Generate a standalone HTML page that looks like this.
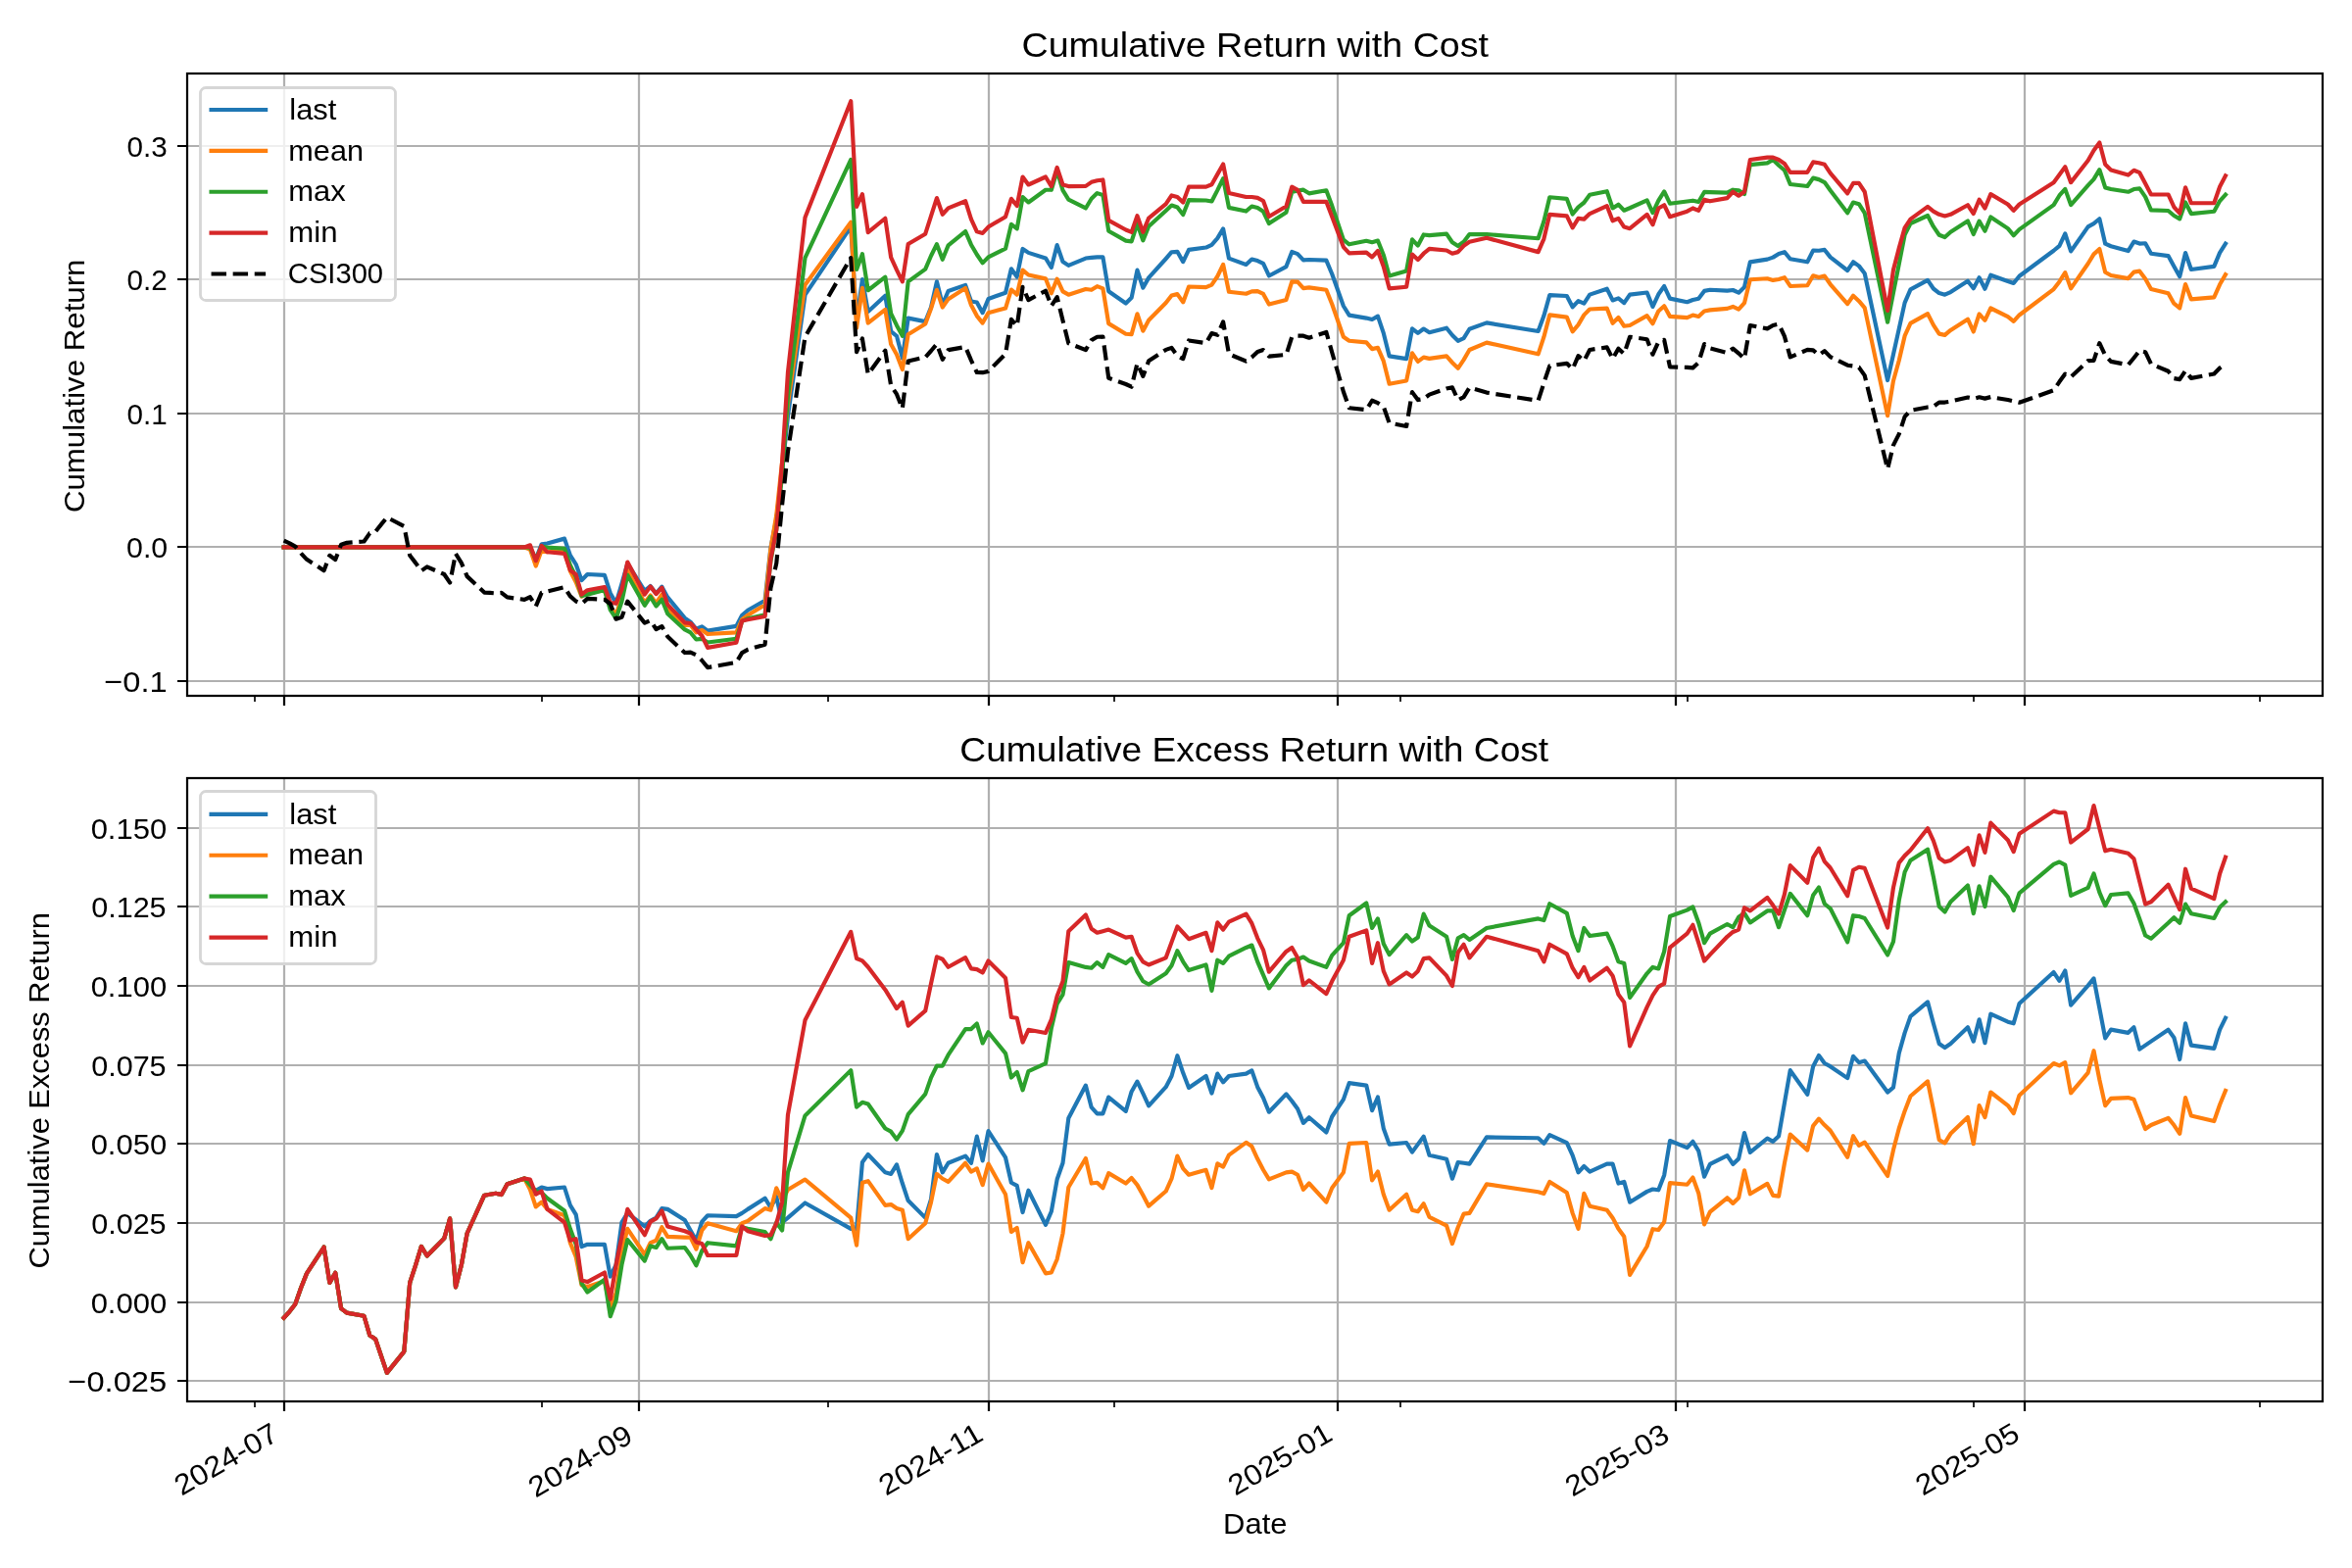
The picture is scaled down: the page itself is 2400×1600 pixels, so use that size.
<!DOCTYPE html>
<html><head><meta charset="utf-8"><title>Cumulative Return with Cost</title>
<style>html,body{margin:0;padding:0;background:#fff;overflow:hidden}svg{display:block;will-change:transform}text{font-family:"Liberation Sans",sans-serif;fill:#000}</style>
</head><body>
<svg width="2400" height="1600" viewBox="0 0 2400 1600">
<rect x="0" y="0" width="2400" height="1600" fill="#ffffff"/>
<defs><clipPath id="clip0"><rect x="191" y="75" width="2179" height="635"/></clipPath></defs>
<path d="M290 710V75M652 710V75M1009 710V75M1365 710V75M1710 710V75M2066 710V75M191 695H2370M191 558H2370M191 422H2370M191 285H2370M191 149H2370" clip-path="url(#clip0)" fill="none" stroke="#b0b0b0" stroke-width="2.22" stroke-linecap="square"/>
<path d="M290 710v10M652 710v10M1009 710v10M1365 710v10M1710 710v10M2066 710v10M191 695h-10M191 558h-10M191 422h-10M191 285h-10M191 149h-10" fill="none" stroke="#000000" stroke-width="2.22"/>
<path d="M260 710v6M553 710v6M845 710v6M1137 710v6M1429 710v6M1722 710v6M2014 710v6M2306 710v6" fill="none" stroke="#000000" stroke-width="1.67"/>
<path d="M289.63 558.43L295.47 558.43L301.31 558.43L307.16 558.43L313 558.43L330.54 558.43L336.38 558.43L342.23 558.43L348.07 558.43L353.92 558.43L371.45 558.43L377.29 558.43L383.14 558.43L388.98 558.43L394.83 558.43L412.36 558.43L418.21 558.43L424.05 558.43L429.9 558.43L435.74 558.43L453.27 558.43L459.12 558.43L464.96 558.43L470.81 558.43L476.65 558.43L494.19 558.43L500.03 558.43L505.87 558.43L511.72 558.43L517.56 558.43L535.1 558.43L540.94 559.32L546.79 570.53L552.63 555.23L558.48 554.51L576.01 549.62L581.85 566.59L587.7 575.78L593.54 592.14L599.39 585.99L616.92 586.85L622.77 605.16L628.61 615.6L634.46 595.49L640.3 575.19L657.83 602.95L663.68 598.04L669.52 605.69L675.37 598.64L681.21 609.44L698.75 630.64L704.59 634.66L710.43 641.71L716.28 639.31L722.12 643.66L751.35 638.89L757.19 627.72L763.04 622.73L780.57 612.78L786.41 559.12L792.26 529.34L798.1 480.7L803.95 424.55L821.48 300.88L868.24 231.4L874.08 327.56L879.93 285.07L885.77 318.06L903.31 301.68L909.15 338.17L914.99 342.82L920.84 365.59L926.68 324.61L944.22 328.1L950.06 313.48L955.91 287.37L961.75 310.87L967.6 297.06L985.13 290.89L990.97 307.54L996.82 308.48L1002.66 319.13L1008.51 304.98L1026.04 298.67L1031.89 274.25L1037.73 282.44L1043.57 253.95L1049.42 257.87L1066.95 263.41L1072.8 272.98L1078.64 250.13L1084.49 266.99L1090.33 270.87L1107.87 263.55L1113.71 262.94L1119.55 262.36L1125.4 262.24L1131.24 297.28L1148.78 309.55L1154.62 303.84L1160.47 275.61L1166.31 293.7L1172.16 283.4L1189.69 263.98L1195.53 257.24L1201.38 256.81L1207.22 267.12L1213.07 254.89L1230.6 252.52L1236.45 249.79L1242.29 243.14L1248.13 233.45L1253.98 263.63L1271.51 269.98L1277.36 264.58L1283.2 266.05L1289.05 268.9L1294.89 281.47L1312.43 272.12L1318.27 256.91L1324.11 259.09L1329.96 265.31L1335.8 264.97L1353.34 265.65L1359.18 279.44L1370.87 312.23L1376.72 321.65L1394.25 324.57L1400.09 325.97L1405.94 322.63L1411.78 339.93L1417.63 363.36L1435.16 366.15L1441.01 335.32L1446.85 339.89L1452.69 335.54L1458.54 339.2L1476.07 334.71L1481.92 341.96L1487.76 347.79L1493.61 345.13L1499.45 335.74L1516.99 329.39L1569.59 338L1575.43 322.08L1581.28 301.08L1598.81 302L1604.65 313.28L1610.5 307.09L1616.34 309.58L1622.19 300.62L1639.72 294.67L1645.57 306.44L1651.41 304.39L1657.25 309.1L1663.1 300.56L1680.63 298.53L1686.48 312.95L1692.32 300.26L1698.17 292.01L1704.01 304.64L1721.55 308.18L1727.39 306.01L1733.23 304.68L1739.08 296.9L1744.92 295.79L1762.46 296.65L1768.3 296.02L1774.15 298.65L1779.99 292.98L1785.84 267.38L1803.37 264.65L1809.21 262.62L1815.06 258.94L1820.9 257.18L1826.75 264.26L1844.28 267.3L1850.13 255.58L1855.97 255.71L1861.81 254.94L1867.66 262.36L1885.19 275.99L1891.04 267.32L1896.88 271.37L1902.73 278.97L1926.1 388.01L1931.95 361.75L1937.79 335.37L1943.64 308.89L1949.48 295.39L1967.02 285.87L1972.86 294.51L1978.71 299.06L1984.55 300.65L1990.4 298.04L2007.93 286.78L2013.77 294.2L2019.62 283.23L2025.46 294.7L2031.31 280.69L2048.84 287L2054.69 288.99L2060.53 281.79L2095.6 255.75L2101.44 250.82L2107.29 238.45L2113.13 256.42L2130.66 231.4L2136.51 228.12L2142.35 223.26L2148.2 248.7L2154.04 251.24L2171.58 256.05L2177.42 246.54L2183.27 248.59L2189.11 248.27L2194.96 258.76L2212.49 261.12L2218.33 271.85L2224.18 282.28L2230.02 258L2235.87 274.96L2259.25 271.92L2265.09 257.88L2270.93 248.74" clip-path="url(#clip0)" fill="none" stroke="#1f77b4" stroke-width="4.17" stroke-linejoin="round" stroke-linecap="square"/>
<path d="M289.63 558.43L295.47 558.43L301.31 558.43L307.16 558.43L313 558.43L330.54 558.43L336.38 558.43L342.23 558.43L348.07 558.43L353.92 558.43L371.45 558.43L377.29 558.43L383.14 558.43L388.98 558.43L394.83 558.43L412.36 558.43L418.21 558.43L424.05 558.43L429.9 558.43L435.74 558.43L453.27 558.43L459.12 558.43L464.96 558.43L470.81 558.43L476.65 558.43L494.19 558.43L500.03 558.43L505.87 558.43L511.72 558.43L517.56 558.43L535.1 558.43L540.94 560.67L546.79 577.63L552.63 561.64L558.48 563.29L576.01 561.78L581.85 582.81L587.7 594.03L593.54 608.7L599.39 604.23L616.92 602.73L622.77 618.34L628.61 627.76L634.46 608.32L640.3 581.95L657.83 615.11L663.68 607.5L669.52 615.49L675.37 606.75L681.21 621.27L698.75 638.08L704.59 637.7L710.43 645.43L716.28 643.03L722.12 647.04L751.35 645.31L757.19 632.11L763.04 627.79L780.57 617.17L786.41 560.14L792.26 525.62L798.1 471.24L803.95 412.39L821.48 290.75L868.24 226.67L874.08 334.65L879.93 293.85L885.77 329.55L903.31 315.87L909.15 351.34L914.99 361.74L920.84 377.08L926.68 341.17L944.22 330.46L950.06 314.83L955.91 295.81L961.75 313.57L967.6 305.17L985.13 293.94L990.97 311.26L996.82 322.33L1002.66 329.6L1008.51 319.17L1026.04 314.55L1031.89 295.53L1037.73 300.68L1043.57 275.57L1049.42 280.5L1066.95 284.35L1072.8 299.33L1078.64 284.58L1084.49 297.4L1090.33 300.68L1107.87 295.05L1113.71 295.79L1119.55 292.17L1125.4 294.42L1131.24 330.13L1148.78 340.72L1154.62 341.08L1160.47 320.28L1166.31 337.7L1172.16 326.73L1189.69 309L1195.53 301.58L1201.38 300.13L1207.22 308.42L1213.07 292.47L1230.6 293.06L1236.45 290.67L1242.29 281.99L1248.13 269.94L1253.98 297.75L1271.51 299.71L1277.36 297.35L1283.2 297.13L1289.05 299.98L1294.89 310.52L1312.43 305.99L1318.27 287.4L1324.11 287.55L1329.96 294.11L1335.8 293.43L1353.34 295.8L1359.18 310.27L1370.87 343.73L1376.72 347.74L1394.25 349.31L1400.09 356.12L1405.94 354.81L1411.78 368.39L1417.63 391.73L1435.16 388.45L1441.01 360.32L1446.85 368.94L1452.69 364.59L1458.54 365.89L1476.07 363.43L1481.92 370L1487.76 375.83L1493.61 367.09L1499.45 357.02L1516.99 349.66L1569.59 361.31L1575.43 343.7L1581.28 321.35L1598.81 323.62L1604.65 338.28L1610.5 331.41L1616.34 321.4L1622.19 315.48L1639.72 314.6L1645.57 329.75L1651.41 323.98L1657.25 332.75L1663.1 331.98L1680.63 322.18L1686.48 330.18L1692.32 317.49L1698.17 312.28L1704.01 322.88L1721.55 324.06L1727.39 321.55L1733.23 322.92L1739.08 317.5L1744.92 316.4L1762.46 314.9L1768.3 312.91L1774.15 315.54L1779.99 309.19L1785.84 285.29L1803.37 284.24L1809.21 285.93L1815.06 284.95L1820.9 283.19L1826.75 291.96L1844.28 291.29L1850.13 281.26L1855.97 283.07L1861.81 281.62L1867.66 290.06L1885.19 310.11L1891.04 301.77L1896.88 307.18L1902.73 314.11L1926.1 424.15L1931.95 388.77L1937.79 367.8L1943.64 342.68L1949.48 329.85L1967.02 320.13L1972.86 331.68L1978.71 340.61L1984.55 341.86L1990.4 336.89L2007.93 325.63L2013.77 338.46L2019.62 320.39L2025.46 326.8L2031.31 314.47L2048.84 323.15L2054.69 327.84L2060.53 321.46L2095.6 295.08L2101.44 287.44L2107.29 278.12L2113.13 294.4L2130.66 269.04L2136.51 259.35L2142.35 254.08L2148.2 277.75L2154.04 280.97L2171.58 284.09L2177.42 277.62L2183.27 276.63L2189.11 284.42L2194.96 294.9L2212.49 299.3L2218.33 309.69L2224.18 314.38L2230.02 290.09L2235.87 305.36L2259.25 303.34L2265.09 290.31L2270.93 280.16" clip-path="url(#clip0)" fill="none" stroke="#ff7f0e" stroke-width="4.17" stroke-linejoin="round" stroke-linecap="square"/>
<path d="M289.63 558.43L295.47 558.43L301.31 558.43L307.16 558.43L313 558.43L330.54 558.43L336.38 558.43L342.23 558.43L348.07 558.43L353.92 558.43L371.45 558.43L377.29 558.43L383.14 558.43L388.98 558.43L394.83 558.43L412.36 558.43L418.21 558.43L424.05 558.43L429.9 558.43L435.74 558.43L453.27 558.43L459.12 558.43L464.96 558.43L470.81 558.43L476.65 558.43L494.19 558.43L500.03 558.43L505.87 558.43L511.72 558.43L517.56 558.43L535.1 558.43L540.94 558.64L546.79 570.87L552.63 557.59L558.48 558.56L576.01 559.76L581.85 576.72L587.7 588.62L593.54 608.02L599.39 606.6L616.92 602.06L622.77 622.39L628.61 631.14L634.46 613.73L640.3 586.67L657.83 617.82L663.68 608.85L669.52 618.53L675.37 611.81L681.21 626.33L698.75 642.47L704.59 645.47L710.43 652.52L716.28 651.81L722.12 655.48L751.35 651.73L757.19 633.8L763.04 631.17L780.57 627.31L786.41 572.64L792.26 540.49L798.1 484.07L803.95 404.96L821.48 263.18L868.24 162.96L874.08 274.99L879.93 259.19L885.77 296.24L903.31 282.68L909.15 319.84L914.99 331.92L920.84 342.87L926.68 287.37L944.22 274.64L950.06 261.03L955.91 249.11L961.75 264.84L967.6 250.35L985.13 236.08L990.97 249.69L996.82 259.75L1002.66 268.37L1008.51 262.33L1026.04 253.65L1031.89 228.9L1037.73 233.37L1043.57 201.17L1049.42 206.44L1066.95 193.73L1072.8 193.79L1078.64 174.32L1084.49 194.22L1090.33 203.59L1107.87 212.48L1113.71 202.75L1119.55 197.11L1125.4 199.01L1131.24 235.74L1148.78 245.65L1154.62 246.35L1160.47 228.26L1166.31 245.34L1172.16 230.99L1189.69 214.95L1195.53 209.55L1201.38 211.49L1207.22 219.09L1213.07 204.16L1230.6 204.5L1236.45 205.48L1242.29 194.11L1248.13 182.05L1253.98 211.89L1271.51 215.54L1277.36 210.47L1283.2 211.95L1289.05 215.81L1294.89 228.04L1312.43 216.66L1318.27 196.05L1324.11 194.51L1329.96 193.64L1335.8 197.35L1353.34 194.31L1359.18 209.8L1370.87 244.61L1376.72 249.3L1394.25 245.8L1400.09 247.21L1405.94 245.56L1411.78 260.15L1417.63 281.46L1435.16 276.49L1441.01 244.31L1446.85 250.57L1452.69 239.46L1458.54 240.08L1476.07 238.63L1481.92 247.23L1487.76 251.04L1493.61 246.69L1499.45 238.99L1516.99 239.05L1569.59 243.27L1575.43 225.66L1581.28 201.28L1598.81 202.88L1604.65 218.55L1610.5 211.35L1616.34 206.74L1622.19 198.79L1639.72 195.21L1645.57 212.39L1651.41 208.65L1657.25 214.71L1663.1 212.26L1680.63 204.32L1686.48 217.05L1692.32 204.7L1698.17 195.43L1704.01 207.73L1721.55 205.52L1727.39 204.7L1733.23 206.08L1739.08 195.93L1744.92 196.17L1762.46 196.7L1768.3 193.7L1774.15 194.31L1779.99 198.09L1785.84 168.1L1803.37 166.39L1809.21 163.01L1815.06 168.78L1820.9 173.78L1826.75 187.95L1844.28 189.98L1850.13 181.64L1855.97 183.11L1861.81 186.06L1867.66 194.16L1885.19 217.25L1891.04 206.55L1896.88 208.24L1902.73 217.35L1926.1 328.75L1931.95 298.77L1937.79 269.35L1943.64 239.5L1949.48 228.02L1967.02 220L1972.86 231.2L1978.71 239.79L1984.55 242.06L1990.4 236.75L2007.93 225.5L2013.77 239L2019.62 225.66L2025.46 235.78L2031.31 221.43L2048.84 233.14L2054.69 240.2L2060.53 234.16L2095.6 209.13L2101.44 199.47L2107.29 192.84L2113.13 209.13L2130.66 189.17L2136.51 182.86L2142.35 173.19L2148.2 191.47L2154.04 192.99L2171.58 195.78L2177.42 193.02L2183.27 192.37L2189.11 200.83L2194.96 214.36L2212.49 215.03L2218.33 220.02L2224.18 223.36L2230.02 206.51L2235.87 218.06L2259.25 215.7L2265.09 205.03L2270.93 198.6" clip-path="url(#clip0)" fill="none" stroke="#2ca02c" stroke-width="4.17" stroke-linejoin="round" stroke-linecap="square"/>
<path d="M289.63 558.43L295.47 558.43L301.31 558.43L307.16 558.43L313 558.43L330.54 558.43L336.38 558.43L342.23 558.43L348.07 558.43L353.92 558.43L371.45 558.43L377.29 558.43L383.14 558.43L388.98 558.43L394.83 558.43L412.36 558.43L418.21 558.43L424.05 558.43L429.9 558.43L435.74 558.43L453.27 558.43L459.12 558.43L464.96 558.43L470.81 558.43L476.65 558.43L494.19 558.43L500.03 558.43L505.87 558.43L511.72 558.43L517.56 558.43L535.1 558.43L540.94 556.28L546.79 572.22L552.63 556.91L558.48 563.29L576.01 564.82L581.85 581.79L587.7 586.26L593.54 606.67L599.39 602.2L616.92 599.01L622.77 614.96L628.61 615.6L634.46 601.57L640.3 573.5L657.83 606.67L663.68 598.38L669.52 606.03L675.37 599.65L681.21 616.88L698.75 635.37L704.59 636.01L710.43 642.39L716.28 648.77L722.12 660.89L751.35 655.79L757.19 633.46L763.04 632.18L780.57 628.99L786.41 570.95L792.26 540.83L798.1 471.91L803.95 380.1L821.48 221.97L868.24 103.16L874.08 210.8L879.93 198.05L885.77 237.12L903.31 222.76L909.15 262.63L914.99 275.39L920.84 287.35L926.68 249.08L944.22 238.71L950.06 220.37L955.91 202.03L961.75 218.78L967.6 212.4L985.13 205.22L990.97 223.56L996.82 236.32L1002.66 237.91L1008.51 231.54L1026.04 221.17L1031.89 202.83L1037.73 210.01L1043.57 180.51L1049.42 188.48L1066.95 180.51L1072.8 190.07L1078.64 170.94L1084.49 188.48L1090.33 190.07L1107.87 189.85L1113.71 185.86L1119.55 184.27L1125.4 183.47L1131.24 224.93L1148.78 234.5L1154.62 236.89L1160.47 220.15L1166.31 236.89L1172.16 222.54L1189.69 208.19L1195.53 199.42L1201.38 201.01L1207.22 206.59L1213.07 190.65L1230.6 190.65L1236.45 188.26L1242.29 177.89L1248.13 167.52L1253.98 197.03L1271.51 201.01L1277.36 201.01L1283.2 201.81L1289.05 205L1294.89 220.95L1312.43 210.58L1318.27 190.65L1324.11 193.84L1329.96 205.8L1335.8 205.8L1353.34 205.8L1359.18 220.95L1370.87 252.04L1376.72 258.42L1394.25 257.62L1400.09 262.41L1405.94 256.03L1411.78 271.98L1417.63 294.3L1435.16 292.71L1441.01 259.51L1446.85 265.09L1452.69 258.72L1458.54 253.93L1476.07 255.53L1481.92 258.72L1487.76 257.12L1493.61 250.74L1499.45 246.76L1516.99 242.77L1569.59 257.12L1575.43 243.57L1581.28 218.85L1598.81 220.44L1604.65 232.4L1610.5 222.83L1616.34 223.63L1622.19 218.05L1639.72 210.08L1645.57 225.23L1651.41 222.83L1657.25 231.61L1663.1 233.2L1680.63 218.85L1686.48 229.21L1692.32 212.47L1698.17 209.28L1704.01 221.24L1721.55 215.66L1727.39 212.47L1733.23 214.86L1739.08 203.7L1744.92 205.29L1762.46 202.1L1768.3 195.73L1774.15 199.71L1779.99 195.73L1785.84 163.03L1803.37 160.64L1809.21 160.64L1815.06 163.03L1820.9 167.02L1826.75 175.79L1844.28 175.79L1850.13 165.43L1855.97 166.22L1861.81 167.82L1867.66 176.59L1885.19 197.32L1891.04 186.95L1896.88 186.95L1902.73 195.73L1926.1 316.92L1931.95 275.46L1937.79 253.13L1943.64 232.4L1949.48 223.63L1967.02 210.87L1972.86 215.66L1978.71 218.85L1984.55 220.44L1990.4 218.85L2007.93 209.28L2013.77 218.05L2019.62 203.7L2025.46 212.47L2031.31 198.12L2048.84 208.48L2054.69 214.86L2060.53 208.48L2095.6 186.16L2101.44 178.18L2107.29 170.21L2113.13 186.16L2130.66 163.83L2136.51 153.47L2142.35 145.49L2148.2 167.82L2154.04 173.4L2171.58 178.55L2177.42 173.76L2183.27 176.16L2189.11 187.32L2194.96 198.48L2212.49 198.48L2218.33 211.24L2224.18 217.62L2230.02 191.3L2235.87 207.25L2259.25 207.25L2265.09 190.51L2270.93 179.34" clip-path="url(#clip0)" fill="none" stroke="#d62728" stroke-width="4.17" stroke-linejoin="round" stroke-linecap="square"/>
<path d="M289.63 551.65L295.47 554.36L301.31 557.6L307.16 564.63L313 570.84L330.54 582.19L336.38 566.79L342.23 571.11L348.07 555.71L353.92 553.82L371.45 552.47L377.29 544.09L383.14 542.47L388.98 535.17L394.83 527.87L412.36 537.06L418.21 566.79L424.05 574.36L429.9 582.46L435.74 578.41L453.27 585.98L459.12 594.56L464.96 564.9L470.81 574.36L476.65 588.14L494.19 604.56L500.03 604.94L505.87 605.37L511.72 604.83L517.56 609.42L535.1 611.86L540.94 609.24L546.79 618.77L552.63 604.81L558.48 603.42L576.01 599.21L581.85 608.41L587.7 613.55L593.54 616.06L599.39 610.91L616.92 611.78L622.77 616.24L628.61 631.74L634.46 629.87L640.3 613.63L657.83 635.65L663.68 633.1L669.52 642.11L675.37 639.11L681.21 649.57L698.75 666.04L704.59 665.67L710.43 668.33L716.28 674.03L722.12 681.09L751.35 675.98L757.19 666.16L763.04 662.85L780.57 657.64L786.41 599.93L792.26 574.87L798.1 515.08L803.95 460.97L821.48 343.71L868.24 263.08L874.08 359.24L879.93 345.47L885.77 381.83L903.31 357.69L909.15 393.5L914.99 402.2L920.84 416.87L926.68 368.46L944.22 364.51L950.06 358L955.91 351.14L961.75 366.87L967.6 357.12L985.13 354L990.97 367.6L996.82 380.02L1002.66 380.2L1008.51 378.89L1026.04 361.09L1031.89 325.86L1037.73 332.7L1043.57 292.73L1049.42 306.11L1066.95 296.78L1072.8 312.09L1078.64 303.09L1084.49 327.05L1090.33 350.27L1107.87 357.14L1113.71 347.07L1119.55 343.79L1125.4 343.66L1131.24 385.8L1148.78 391.99L1154.62 394.72L1160.47 370.88L1166.31 383.91L1172.16 368.21L1189.69 356.9L1195.53 354.88L1201.38 363.23L1207.22 366.11L1213.07 347.46L1230.6 350.17L1236.45 340L1242.29 341.8L1248.13 328.39L1253.98 361.27L1271.51 368.64L1277.36 364.58L1283.2 358.96L1289.05 357.09L1294.89 363.57L1312.43 361.99L1318.27 343.75L1324.11 342.54L1329.96 342.68L1335.8 344.71L1353.34 338.96L1359.18 359.52L1370.87 399.74L1376.72 416.25L1394.25 418.16L1400.09 408.75L1405.94 411.16L1411.78 414.94L1417.63 431.52L1435.16 435L1441.01 400.11L1446.85 408.06L1452.69 407.08L1458.54 402.64L1476.07 396.46L1481.92 395.26L1487.76 408.19L1493.61 405.19L1499.45 395.46L1516.99 400.6L1569.59 408.87L1575.43 390.58L1581.28 373.3L1598.81 370.84L1604.65 376.72L1610.5 363.1L1616.34 368.29L1622.19 356.96L1639.72 354.39L1645.57 366.16L1651.41 355.66L1657.25 361.06L1663.1 343.73L1680.63 346.27L1686.48 361.71L1692.32 348.68L1698.17 346.84L1704.01 374.34L1721.55 374.84L1727.39 375.36L1733.23 369.99L1739.08 351.05L1744.92 355.35L1762.46 359.93L1768.3 355.58L1774.15 360.58L1779.99 366.05L1785.84 332.01L1803.37 335.36L1809.21 331.98L1815.06 330.66L1820.9 343.09L1826.75 364.36L1844.28 356.93L1850.13 357.37L1855.97 362.23L1861.81 358.08L1867.66 364.15L1885.19 372.71L1891.04 373.5L1896.88 374.85L1902.73 383.13L1926.1 478.65L1931.95 454.42L1937.79 442.9L1943.64 425.21L1949.48 418.8L1967.02 415.51L1972.86 414.89L1978.71 410.64L1984.55 410.55L1990.4 409.63L2007.93 405.47L2013.77 406.8L2019.62 405.29L2025.46 406.63L2031.31 405.11L2048.84 408.05L2054.69 409.36L2060.53 410.75L2095.6 398.22L2101.44 389.57L2107.29 381.6L2113.13 384.71L2130.66 368.13L2136.51 367.89L2142.35 350.12L2148.2 362.65L2154.04 368.91L2171.58 372.37L2177.42 365.22L2183.27 357.81L2189.11 359.18L2194.96 371.36L2212.49 378.79L2218.33 386.14L2224.18 387.12L2230.02 378.37L2235.87 385.87L2259.25 381.48L2265.09 375.55L2270.93 371.48" clip-path="url(#clip0)" fill="none" stroke="#000000" stroke-width="4.17" stroke-linejoin="round" stroke-linecap="butt" stroke-dasharray="15.42 6.67"/>
<rect x="191" y="75" width="2179" height="635" fill="none" stroke="#000000" stroke-width="2.22" stroke-linejoin="miter"/>
<rect x="204.5" y="89.5" width="199" height="217" rx="5.56" ry="5.56" fill="#ffffff" fill-opacity="0.8" stroke="#d6d6d6" stroke-width="2.8"/>
<path d="M215.56 111.98L243.34 111.98L271.12 111.98" fill="none" stroke="#1f77b4" stroke-width="4.17" stroke-linecap="square"/>
<path d="M215.56 153.87L243.34 153.87L271.12 153.87" fill="none" stroke="#ff7f0e" stroke-width="4.17" stroke-linecap="square"/>
<path d="M215.56 195.76L243.34 195.76L271.12 195.76" fill="none" stroke="#2ca02c" stroke-width="4.17" stroke-linecap="square"/>
<path d="M215.56 237.64L243.34 237.64L271.12 237.64" fill="none" stroke="#d62728" stroke-width="4.17" stroke-linecap="square"/>
<path d="M215.56 279.53L243.34 279.53L271.12 279.53" fill="none" stroke="#000000" stroke-width="4.17" stroke-linecap="butt" stroke-dasharray="15.42 6.67"/>
<defs><clipPath id="clip1"><rect x="191" y="794" width="2179" height="636"/></clipPath></defs>
<path d="M290 1430V794M652 1430V794M1009 1430V794M1365 1430V794M1710 1430V794M2066 1430V794M191 1409H2370M191 1329H2370M191 1248H2370M191 1167H2370M191 1087H2370M191 1006H2370M191 925H2370M191 845H2370" clip-path="url(#clip1)" fill="none" stroke="#b0b0b0" stroke-width="2.22" stroke-linecap="square"/>
<path d="M290 1430v10M652 1430v10M1009 1430v10M1365 1430v10M1710 1430v10M2066 1430v10M191 1409h-10M191 1329h-10M191 1248h-10M191 1167h-10M191 1087h-10M191 1006h-10M191 925h-10M191 845h-10" fill="none" stroke="#000000" stroke-width="2.22"/>
<path d="M260 1430v6M553 1430v6M845 1430v6M1137 1430v6M1429 1430v6M1722 1430v6M2014 1430v6M2306 1430v6" fill="none" stroke="#000000" stroke-width="1.67"/>
<path d="M289.63 1344.7L295.47 1338.31L301.31 1330.65L307.16 1314.05L313 1299.36L330.54 1272.54L336.38 1308.94L342.23 1298.72L348.07 1335.12L353.92 1339.59L371.45 1342.78L377.29 1362.58L383.14 1366.41L388.98 1383.65L394.83 1400.89L412.36 1379.18L418.21 1308.94L424.05 1291.06L429.9 1271.9L435.74 1281.48L453.27 1263.6L459.12 1243.32L464.96 1313.41L470.81 1291.06L476.65 1258.49L494.19 1219.69L500.03 1218.8L505.87 1217.78L511.72 1219.05L517.56 1208.2L535.1 1202.45L540.94 1210.73L546.79 1214.72L552.63 1211.52L558.48 1213.12L576.01 1211.52L581.85 1229.88L587.7 1239.46L593.54 1272.19L599.39 1269.79L616.92 1269.79L622.77 1302.52L628.61 1290.55L634.46 1247.44L640.3 1237.87L657.83 1251.43L663.68 1245.85L669.52 1242.65L675.37 1233.08L681.21 1233.87L698.75 1245.05L704.59 1255.43L710.43 1265.8L716.28 1246.65L722.12 1240.26L751.35 1241.06L757.19 1237.87L763.04 1233.87L780.57 1222.7L786.41 1232.28L792.26 1221.1L798.1 1247.44L803.95 1242.65L821.48 1227.49L868.24 1253.83L874.08 1253.83L879.93 1185.98L885.77 1178L903.31 1196.36L909.15 1197.96L914.99 1188.38L920.84 1207.53L926.68 1225.09L944.22 1242.65L950.06 1223.5L955.91 1178L961.75 1196.36L967.6 1186.78L985.13 1179.6L990.97 1186.78L996.82 1159.64L1002.66 1184.39L1008.51 1154.05L1026.04 1181.19L1031.89 1206.74L1037.73 1209.93L1043.57 1237.07L1049.42 1214.72L1066.95 1249.84L1072.8 1236.27L1078.64 1203.54L1084.49 1186.78L1090.33 1141.08L1107.87 1107.56L1113.71 1129.91L1119.55 1136.3L1125.4 1136.3L1131.24 1119.53L1148.78 1133.9L1154.62 1113.95L1160.47 1103.57L1166.31 1115.54L1172.16 1128.31L1189.69 1109.16L1195.53 1097.98L1201.38 1077.23L1207.22 1094.79L1213.07 1109.95L1230.6 1097.98L1236.45 1115.54L1242.29 1095.59L1248.13 1104.37L1253.98 1097.98L1271.51 1095.59L1277.36 1092.39L1283.2 1109.16L1289.05 1120.33L1294.89 1134.7L1312.43 1116.34L1318.27 1123.52L1324.11 1131.51L1329.96 1145.87L1335.8 1140.29L1353.34 1155.45L1359.18 1139.49L1370.87 1121.93L1376.72 1105.17L1394.25 1107.56L1400.09 1133.1L1405.94 1119.53L1411.78 1151.46L1417.63 1167.62L1435.16 1166.03L1441.01 1175.61L1446.85 1167.62L1452.69 1159.64L1458.54 1178.8L1476.07 1182.79L1481.92 1202.74L1487.76 1185.98L1493.61 1186.78L1499.45 1187.58L1516.99 1160.44L1569.59 1161.24L1575.43 1166.83L1581.28 1158.04L1598.81 1166.03L1604.65 1178.8L1610.5 1196.36L1616.34 1189.97L1622.19 1195.56L1639.72 1187.58L1645.57 1187.58L1651.41 1207.53L1657.25 1205.94L1663.1 1226.69L1680.63 1215.89L1686.48 1213.5L1692.32 1214.3L1698.17 1199.13L1704.01 1164.01L1721.55 1171.19L1727.39 1164.81L1733.23 1174.39L1739.08 1200.73L1744.92 1187.96L1762.46 1179.17L1768.3 1187.96L1774.15 1182.37L1779.99 1156.03L1785.84 1175.98L1803.37 1161.61L1809.21 1164.81L1815.06 1159.22L1820.9 1125.7L1826.75 1092.17L1844.28 1116.91L1850.13 1088.18L1855.97 1077L1861.81 1084.99L1867.66 1088.18L1885.19 1100.15L1891.04 1077.8L1896.88 1084.19L1902.73 1082.59L1926.1 1114.52L1931.95 1109.73L1937.79 1074.61L1943.64 1053.86L1949.48 1037.09L1967.02 1022.39L1972.86 1044.28L1978.71 1065.03L1984.55 1069.02L1990.4 1065.03L2007.93 1048.27L2013.77 1062.64L2019.62 1040.29L2025.46 1064.23L2031.31 1034.7L2048.84 1042.68L2054.69 1044.28L2060.53 1023.98L2095.6 992.06L2101.44 1000.84L2107.29 990.46L2113.13 1025.58L2130.66 1005.63L2136.51 998.44L2142.35 1028.94L2148.2 1059.44L2154.04 1050.66L2171.58 1053.86L2177.42 1048.27L2183.27 1070.62L2189.11 1066.63L2194.96 1062.64L2212.49 1050.66L2218.33 1058.65L2224.18 1081L2230.02 1044.28L2235.87 1066.63L2259.25 1069.82L2265.09 1050.66L2270.93 1038.69" clip-path="url(#clip1)" fill="none" stroke="#1f77b4" stroke-width="4.17" stroke-linejoin="round" stroke-linecap="square"/>
<path d="M289.63 1344.7L295.47 1338.31L301.31 1330.65L307.16 1314.05L313 1299.36L330.54 1272.54L336.38 1308.94L342.23 1298.72L348.07 1335.12L353.92 1339.59L371.45 1342.78L377.29 1362.58L383.14 1366.41L388.98 1383.65L394.83 1400.89L412.36 1379.18L418.21 1308.94L424.05 1291.06L429.9 1271.9L435.74 1281.48L453.27 1263.6L459.12 1243.32L464.96 1313.41L470.81 1291.06L476.65 1258.49L494.19 1219.69L500.03 1218.8L505.87 1217.78L511.72 1219.05L517.56 1208.2L535.1 1202.45L540.94 1213.92L546.79 1231.48L552.63 1226.69L558.48 1233.87L576.01 1240.26L581.85 1268.2L587.7 1282.56L593.54 1311.3L599.39 1312.9L616.92 1307.31L622.77 1333.65L628.61 1319.28L634.46 1277.78L640.3 1253.83L657.83 1280.17L663.68 1268.2L669.52 1265.8L675.37 1252.23L681.21 1261.81L698.75 1262.61L704.59 1262.61L710.43 1274.58L716.28 1255.43L722.12 1248.24L751.35 1256.22L757.19 1248.24L763.04 1245.85L780.57 1233.08L786.41 1234.67L792.26 1212.32L798.1 1225.09L803.95 1213.92L821.48 1203.54L868.24 1242.65L874.08 1270.59L879.93 1206.74L885.77 1205.14L903.31 1229.88L909.15 1229.09L914.99 1233.08L920.84 1234.67L926.68 1264.21L944.22 1248.24L950.06 1226.69L955.91 1197.96L961.75 1202.74L967.6 1205.94L985.13 1186.78L990.97 1195.56L996.82 1192.37L1002.66 1209.13L1008.51 1187.58L1026.04 1218.71L1031.89 1257.02L1037.73 1253.03L1043.57 1288.15L1049.42 1268.2L1066.95 1299.33L1072.8 1298.53L1078.64 1284.96L1084.49 1258.62L1090.33 1211.52L1107.87 1181.99L1113.71 1207.53L1119.55 1206.74L1125.4 1212.32L1131.24 1197.16L1148.78 1207.53L1154.62 1201.95L1160.47 1209.13L1166.31 1219.51L1172.16 1230.68L1189.69 1215.52L1195.53 1202.74L1201.38 1179.6L1207.22 1192.37L1213.07 1198.75L1230.6 1193.77L1236.45 1212.12L1242.29 1187.38L1248.13 1190.57L1253.98 1178.6L1271.51 1165.83L1277.36 1169.82L1283.2 1182.59L1289.05 1193.77L1294.89 1203.34L1312.43 1196.36L1318.27 1195.56L1324.11 1198.75L1329.96 1213.92L1335.8 1207.53L1353.34 1226.69L1359.18 1212.32L1370.87 1196.36L1376.72 1166.83L1394.25 1166.03L1400.09 1204.34L1405.94 1195.56L1411.78 1218.71L1417.63 1234.67L1435.16 1218.71L1441.01 1234.67L1446.85 1236.27L1452.69 1228.29L1458.54 1241.86L1476.07 1250.64L1481.92 1269L1487.76 1252.23L1493.61 1238.66L1499.45 1237.87L1516.99 1208.33L1569.59 1216.31L1575.43 1217.91L1581.28 1205.94L1598.81 1217.11L1604.65 1237.87L1610.5 1253.83L1616.34 1217.91L1622.19 1230.68L1639.72 1234.67L1645.57 1242.65L1651.41 1253.83L1657.25 1261.81L1663.1 1300.92L1680.63 1271.77L1686.48 1254.21L1692.32 1255L1698.17 1247.02L1704.01 1207.11L1721.55 1208.71L1727.39 1201.52L1733.23 1217.49L1739.08 1249.42L1744.92 1236.65L1762.46 1222.28L1768.3 1227.87L1774.15 1222.28L1779.99 1194.34L1785.84 1218.29L1803.37 1207.91L1809.21 1219.88L1815.06 1220.68L1820.9 1187.16L1826.75 1157.62L1844.28 1173.59L1850.13 1148.84L1855.97 1141.66L1861.81 1148.04L1867.66 1153.63L1885.19 1180.77L1891.04 1159.22L1896.88 1168.8L1902.73 1165.61L1926.1 1199.93L1931.95 1173.59L1937.79 1151.24L1943.64 1133.68L1949.48 1118.51L1967.02 1103.35L1972.86 1132.08L1978.71 1163.21L1984.55 1166.4L1990.4 1156.83L2007.93 1140.06L2013.77 1167.2L2019.62 1128.09L2025.46 1140.06L2031.31 1114.52L2048.84 1128.09L2054.69 1136.07L2060.53 1117.71L2095.6 1084.99L2101.44 1087.38L2107.29 1084.19L2113.13 1115.32L2130.66 1094.57L2136.51 1072.22L2142.35 1101.75L2148.2 1128.09L2154.04 1120.91L2171.58 1120.11L2177.42 1121.7L2183.27 1136.87L2189.11 1152.04L2194.96 1148.04L2212.49 1140.86L2218.33 1148.04L2224.18 1156.83L2230.02 1120.11L2235.87 1138.47L2259.25 1144.05L2265.09 1127.29L2270.93 1112.92" clip-path="url(#clip1)" fill="none" stroke="#ff7f0e" stroke-width="4.17" stroke-linejoin="round" stroke-linecap="square"/>
<path d="M289.63 1344.7L295.47 1338.31L301.31 1330.65L307.16 1314.05L313 1299.36L330.54 1272.54L336.38 1308.94L342.23 1298.72L348.07 1335.12L353.92 1339.59L371.45 1342.78L377.29 1362.58L383.14 1366.41L388.98 1383.65L394.83 1400.89L412.36 1379.18L418.21 1308.94L424.05 1291.06L429.9 1271.9L435.74 1281.48L453.27 1263.6L459.12 1243.32L464.96 1313.41L470.81 1291.06L476.65 1258.49L494.19 1219.69L500.03 1218.8L505.87 1217.78L511.72 1219.05L517.56 1208.2L535.1 1202.45L540.94 1209.13L546.79 1215.52L552.63 1217.11L558.48 1222.7L576.01 1235.47L581.85 1253.83L587.7 1269.79L593.54 1309.7L599.39 1318.48L616.92 1305.71L622.77 1343.23L628.61 1327.26L634.46 1290.55L640.3 1265L657.83 1286.56L663.68 1271.39L669.52 1272.99L675.37 1264.21L681.21 1273.78L698.75 1272.99L704.59 1280.97L710.43 1291.35L716.28 1276.18L722.12 1268.2L751.35 1271.39L757.19 1252.23L763.04 1253.83L780.57 1257.02L786.41 1264.21L792.26 1247.44L798.1 1255.43L803.95 1196.36L821.48 1138.41L868.24 1092.11L874.08 1129.63L879.93 1124.84L885.77 1126.44L903.31 1151.46L909.15 1154.65L914.99 1162.64L920.84 1153.86L926.68 1137.09L944.22 1116.34L950.06 1099.58L955.91 1087.6L961.75 1087.6L967.6 1076.43L985.13 1050.09L990.97 1050.09L996.82 1044.5L1002.66 1064.46L1008.51 1053.28L1026.04 1074.83L1031.89 1099.58L1037.73 1093.99L1043.57 1112.35L1049.42 1093.19L1066.95 1085.21L1072.8 1049.16L1078.64 1024.42L1084.49 1014.84L1090.33 982.11L1107.87 986.9L1113.71 987.7L1119.55 982.11L1125.4 986.9L1131.24 974.13L1148.78 982.91L1154.62 978.12L1160.47 991.69L1166.31 1001.27L1172.16 1004.46L1189.69 993.29L1195.53 985.31L1201.38 970.14L1207.22 981.32L1213.07 990.1L1230.6 984.51L1236.45 1010.85L1242.29 979.72L1248.13 982.91L1253.98 975.73L1271.51 966.95L1277.36 964.55L1283.2 981.32L1289.05 994.89L1294.89 1008.45L1312.43 985.31L1318.27 979.72L1324.11 978.92L1329.96 976.53L1335.8 980.52L1353.34 986.9L1359.18 974.93L1370.87 962.16L1376.72 934.22L1394.25 921.45L1400.09 946.99L1405.94 937.41L1411.78 962.96L1417.63 974.13L1435.16 954.18L1441.01 960.56L1446.85 956.57L1452.69 932.63L1458.54 944.6L1476.07 955.77L1481.92 978.92L1487.76 957.37L1493.61 954.18L1499.45 958.97L1516.99 946.99L1569.59 937.41L1575.43 939.01L1581.28 922.25L1598.81 931.83L1604.65 954.98L1610.5 970.14L1616.34 946.99L1622.19 954.98L1639.72 952.58L1645.57 965.35L1651.41 981.32L1657.25 982.91L1663.1 1018.03L1680.63 993.29L1686.48 986.9L1692.32 988.5L1698.17 970.94L1704.01 935.02L1721.55 928.63L1727.39 925.44L1733.23 941.41L1739.08 962.16L1744.92 952.58L1762.46 943L1768.3 946.19L1774.15 935.82L1779.99 931.83L1785.84 941.41L1803.37 929.43L1809.21 929.43L1815.06 946.19L1820.9 928.63L1826.75 911.87L1844.28 934.22L1850.13 913.47L1855.97 905.49L1861.81 922.25L1867.66 927.04L1885.19 961.36L1891.04 934.22L1896.88 935.02L1902.73 936.98L1926.1 974.5L1931.95 960.93L1937.79 918.62L1943.64 889.89L1949.48 877.91L1967.02 866.74L1972.86 894.68L1978.71 925.01L1984.55 930.59L1990.4 920.22L2007.93 903.46L2013.77 932.19L2019.62 904.25L2025.46 925.01L2031.31 894.68L2048.84 915.43L2054.69 929L2060.53 911.44L2095.6 881.9L2101.44 879.51L2107.29 882.7L2113.13 913.83L2130.66 905.85L2136.51 891.48L2142.35 910.64L2148.2 924.21L2154.04 913.03L2171.58 911.44L2177.42 921.81L2183.27 937.78L2189.11 954.54L2194.96 957.73L2212.49 941.77L2218.33 936.18L2224.18 941.77L2230.02 922.61L2235.87 932.19L2259.25 936.98L2265.09 925.81L2270.93 920.22" clip-path="url(#clip1)" fill="none" stroke="#2ca02c" stroke-width="4.17" stroke-linejoin="round" stroke-linecap="square"/>
<path d="M289.63 1344.7L295.47 1338.31L301.31 1330.65L307.16 1314.05L313 1299.36L330.54 1272.54L336.38 1308.94L342.23 1298.72L348.07 1335.12L353.92 1339.59L371.45 1342.78L377.29 1362.58L383.14 1366.41L388.98 1383.65L394.83 1400.89L412.36 1379.18L418.21 1308.94L424.05 1291.06L429.9 1271.9L435.74 1281.48L453.27 1263.6L459.12 1243.32L464.96 1313.41L470.81 1291.06L476.65 1258.49L494.19 1219.69L500.03 1218.8L505.87 1217.78L511.72 1219.05L517.56 1208.2L535.1 1202.45L540.94 1203.54L546.79 1218.71L552.63 1215.52L558.48 1233.87L576.01 1247.44L581.85 1265.8L587.7 1264.21L593.54 1306.51L599.39 1308.11L616.92 1298.53L622.77 1325.67L628.61 1290.55L634.46 1261.81L640.3 1233.87L657.83 1260.22L663.68 1246.65L669.52 1243.45L675.37 1235.47L681.21 1251.43L698.75 1256.22L704.59 1258.62L710.43 1267.4L716.28 1269L722.12 1280.97L751.35 1280.97L757.19 1251.43L763.04 1256.22L780.57 1261.01L786.41 1260.22L792.26 1248.24L798.1 1226.69L803.95 1137.61L821.48 1041.03L868.24 950.83L874.08 977.97L879.93 980.36L885.77 986.75L903.31 1009.9L909.15 1019.48L914.99 1029.05L920.84 1022.67L926.68 1046.62L944.22 1031.45L950.06 1003.51L955.91 976.37L961.75 978.77L967.6 986.75L985.13 977.17L990.97 988.35L996.82 989.14L1002.66 992.49L1008.51 980.52L1026.04 998.08L1031.89 1037.99L1037.73 1038.79L1043.57 1063.53L1049.42 1050.76L1066.95 1053.95L1072.8 1040.38L1078.64 1016.44L1084.49 1001.27L1090.33 950.19L1107.87 933.42L1113.71 947.79L1119.55 951.78L1125.4 950.19L1131.24 948.59L1148.78 956.57L1154.62 955.77L1160.47 972.54L1166.31 981.32L1172.16 984.51L1189.69 977.32L1195.53 961.36L1201.38 945.4L1207.22 951.78L1213.07 958.17L1230.6 951.78L1236.45 970.14L1242.29 941.41L1248.13 948.59L1253.98 940.61L1271.51 932.63L1277.36 942.2L1283.2 957.37L1289.05 969.34L1294.89 991.69L1312.43 970.94L1318.27 966.95L1324.11 977.32L1329.96 1005.26L1335.8 1000.47L1353.34 1014.04L1359.18 1001.27L1370.87 979.72L1376.72 955.77L1394.25 949.39L1400.09 982.91L1405.94 962.16L1411.78 990.89L1417.63 1004.46L1435.16 992.49L1441.01 996.48L1446.85 990.89L1452.69 978.12L1458.54 977.32L1476.07 995.68L1481.92 1006.06L1487.76 971.74L1493.61 963.76L1499.45 977.32L1516.99 955.77L1569.59 970.14L1575.43 981.32L1581.28 963.76L1598.81 973.33L1604.65 987.7L1610.5 997.28L1616.34 986.9L1622.19 1000.47L1639.72 987.7L1645.57 995.68L1651.41 1014.84L1657.25 1022.82L1663.1 1067.52L1680.63 1027.61L1686.48 1015.64L1692.32 1006.86L1698.17 1003.67L1704.01 966.95L1721.55 952.58L1727.39 943.8L1733.23 962.16L1739.08 980.52L1744.92 974.13L1762.46 955.77L1768.3 950.98L1774.15 948.59L1779.99 926.24L1785.84 929.43L1803.37 915.86L1809.21 923.85L1815.06 932.63L1820.9 912.67L1826.75 883.14L1844.28 900.7L1850.13 875.15L1855.97 865.58L1861.81 879.15L1867.66 885.53L1885.19 914.27L1891.04 887.93L1896.88 884.73L1902.73 885.9L1926.1 946.56L1931.95 905.85L1937.79 880.31L1943.64 873.12L1949.48 867.54L1967.02 845.19L1972.86 857.96L1978.71 875.52L1984.55 879.51L1990.4 877.91L2007.93 865.14L2013.77 882.7L2019.62 852.37L2025.46 869.93L2031.31 839.6L2048.84 857.16L2054.69 869.13L2060.53 850.77L2095.6 827.63L2101.44 829.22L2107.29 829.22L2113.13 859.55L2130.66 845.98L2136.51 822.04L2142.35 845.19L2148.2 868.33L2154.04 866.74L2171.58 870.73L2177.42 876.32L2183.27 899.46L2189.11 922.61L2194.96 920.22L2212.49 902.66L2218.33 915.43L2224.18 928.2L2230.02 886.69L2235.87 906.65L2259.25 917.03L2265.09 891.48L2270.93 874.72" clip-path="url(#clip1)" fill="none" stroke="#d62728" stroke-width="4.17" stroke-linejoin="round" stroke-linecap="square"/>
<rect x="191" y="794" width="2179" height="636" fill="none" stroke="#000000" stroke-width="2.22" stroke-linejoin="miter"/>
<rect x="204.5" y="807.5" width="179" height="176" rx="5.56" ry="5.56" fill="#ffffff" fill-opacity="0.8" stroke="#d6d6d6" stroke-width="2.8"/>
<path d="M215.56 830.88L243.34 830.88L271.12 830.88" fill="none" stroke="#1f77b4" stroke-width="4.17" stroke-linecap="square"/>
<path d="M215.56 872.77L243.34 872.77L271.12 872.77" fill="none" stroke="#ff7f0e" stroke-width="4.17" stroke-linecap="square"/>
<path d="M215.56 914.66L243.34 914.66L271.12 914.66" fill="none" stroke="#2ca02c" stroke-width="4.17" stroke-linecap="square"/>
<path d="M215.56 956.54L243.34 956.54L271.12 956.54" fill="none" stroke="#d62728" stroke-width="4.17" stroke-linecap="square"/>
<text x="170.62" y="705.58" font-size="30.28" text-anchor="end" textLength="64.34" lengthAdjust="spacingAndGlyphs">−0.1</text>
<text x="171.12" y="568.98" font-size="30.28" text-anchor="end" textLength="42.07" lengthAdjust="spacingAndGlyphs">0.0</text>
<text x="170.62" y="433.38" font-size="30.28" text-anchor="end" textLength="41.16" lengthAdjust="spacingAndGlyphs">0.1</text>
<text x="170.62" y="295.78" font-size="30.28" text-anchor="end" textLength="41.16" lengthAdjust="spacingAndGlyphs">0.2</text>
<text x="170.62" y="160.18" font-size="30.28" text-anchor="end" textLength="41.16" lengthAdjust="spacingAndGlyphs">0.3</text>
<text x="85.78" y="393.85" transform="rotate(-90 85.78 393.85)" font-size="29.44" text-anchor="middle" textLength="258.54" lengthAdjust="spacingAndGlyphs">Cumulative Return</text>
<text x="1280.78" y="58.03" font-size="35.33" text-anchor="middle" textLength="476.46" lengthAdjust="spacingAndGlyphs">Cumulative Return with Cost</text>
<text x="295.34" y="121.81" font-size="29.44" text-anchor="start" textLength="48.01" lengthAdjust="spacingAndGlyphs">last</text>
<text x="294.34" y="163.58" font-size="29.44" text-anchor="start" textLength="76.68" lengthAdjust="spacingAndGlyphs">mean</text>
<text x="294.34" y="205.35" font-size="29.44" text-anchor="start" textLength="58.43" lengthAdjust="spacingAndGlyphs">max</text>
<text x="294.34" y="247.12" font-size="29.44" text-anchor="start" textLength="50.24" lengthAdjust="spacingAndGlyphs">min</text>
<text x="293.84" y="288.9" font-size="30.28" text-anchor="start" textLength="97.22" lengthAdjust="spacingAndGlyphs">CSI300</text>
<text transform="translate(185.22 1526.76) rotate(-30)" font-size="29.44" text-anchor="start" textLength="116.5" lengthAdjust="spacingAndGlyphs">2024-07</text>
<text transform="translate(546.59 1528.76) rotate(-30)" font-size="29.44" text-anchor="start" textLength="116.5" lengthAdjust="spacingAndGlyphs">2024-09</text>
<text transform="translate(904.11 1526.76) rotate(-30)" font-size="29.44" text-anchor="start" textLength="116.5" lengthAdjust="spacingAndGlyphs">2024-11</text>
<text transform="translate(1260.62 1526.76) rotate(-30)" font-size="29.44" text-anchor="start" textLength="116.5" lengthAdjust="spacingAndGlyphs">2025-01</text>
<text transform="translate(1604.45 1527.76) rotate(-30)" font-size="29.44" text-anchor="start" textLength="116.5" lengthAdjust="spacingAndGlyphs">2025-03</text>
<text transform="translate(1961.97 1526.76) rotate(-30)" font-size="29.44" text-anchor="start" textLength="116.5" lengthAdjust="spacingAndGlyphs">2025-05</text>
<text x="1280.78" y="1564.98" font-size="30.28" text-anchor="middle" textLength="65.34" lengthAdjust="spacingAndGlyphs">Date</text>
<text x="170.12" y="1419.93" font-size="30.28" text-anchor="end" textLength="100.74" lengthAdjust="spacingAndGlyphs">−0.025</text>
<text x="170.12" y="1340.24" font-size="30.28" text-anchor="end" textLength="77.46" lengthAdjust="spacingAndGlyphs">0.000</text>
<text x="169.62" y="1258.55" font-size="30.28" text-anchor="end" textLength="76.42" lengthAdjust="spacingAndGlyphs">0.025</text>
<text x="170.12" y="1177.86" font-size="30.28" text-anchor="end" textLength="77.46" lengthAdjust="spacingAndGlyphs">0.050</text>
<text x="169.62" y="1098.17" font-size="30.28" text-anchor="end" textLength="76.42" lengthAdjust="spacingAndGlyphs">0.075</text>
<text x="170.12" y="1017.48" font-size="30.28" text-anchor="end" textLength="77.46" lengthAdjust="spacingAndGlyphs">0.100</text>
<text x="169.62" y="935.79" font-size="30.28" text-anchor="end" textLength="76.42" lengthAdjust="spacingAndGlyphs">0.125</text>
<text x="170.12" y="856.1" font-size="30.28" text-anchor="end" textLength="77.46" lengthAdjust="spacingAndGlyphs">0.150</text>
<text x="50.43" y="1112.8" transform="rotate(-90 50.43 1112.8)" font-size="29.44" text-anchor="middle" textLength="363.19" lengthAdjust="spacingAndGlyphs">Cumulative Excess Return</text>
<text x="1279.78" y="776.93" font-size="35.33" text-anchor="middle" textLength="600.83" lengthAdjust="spacingAndGlyphs">Cumulative Excess Return with Cost</text>
<text x="295.34" y="840.71" font-size="29.44" text-anchor="start" textLength="48.01" lengthAdjust="spacingAndGlyphs">last</text>
<text x="294.34" y="882.48" font-size="29.44" text-anchor="start" textLength="76.68" lengthAdjust="spacingAndGlyphs">mean</text>
<text x="294.34" y="924.25" font-size="29.44" text-anchor="start" textLength="58.43" lengthAdjust="spacingAndGlyphs">max</text>
<text x="294.34" y="966.02" font-size="29.44" text-anchor="start" textLength="50.24" lengthAdjust="spacingAndGlyphs">min</text>
</svg>
</body></html>
